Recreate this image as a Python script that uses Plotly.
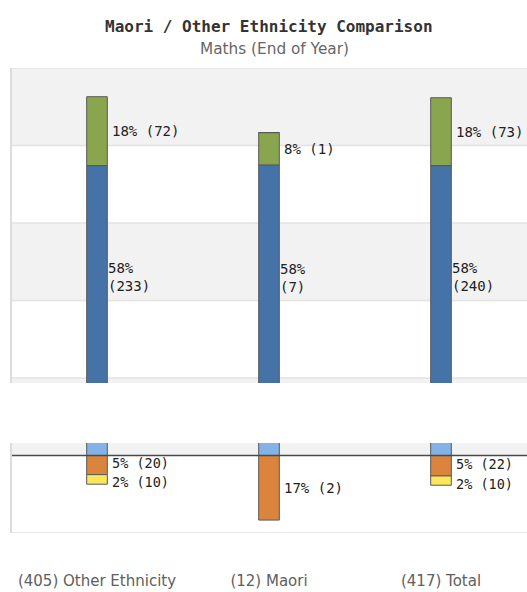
import plotly.graph_objects as go

categories = ["Other Ethnicity", "Maori", "Total"]
group_sizes = [405, 12, 417]
# counts per achievement level
light_blue_counts = [70, 2, 72]
blue_counts = [233, 7, 240]
green_counts = [72, 1, 73]
orange_counts = [20, 2, 22]
yellow_counts = [10, 0, 10]

band_edges = [100, 80, 60, 40, 20, 0, -20]
gap_range = [3.2, 18.7]

COL = dict(lb="#82b2e6", bl="#4572a7", gr="#89a54e", ora="#db843d", yel="#fbe65c")

def pct(counts):
    return [c / n * 100 for c, n in zip(counts, group_sizes)]

lb, bl, gr = pct(light_blue_counts), pct(blue_counts), pct(green_counts)
ora, yel = pct(orange_counts), pct(yellow_counts)

fig = go.Figure()
line = dict(color="#5a5a5a", width=1)
for vals, col, sign in [(lb, COL["lb"], 1), (bl, COL["bl"], 1), (gr, COL["gr"], 1),
                        (ora, COL["ora"], -1), (yel, COL["yel"], -1)]:
    fig.add_trace(go.Bar(x=categories, y=[sign * v for v in vals], width=0.12,
                         marker=dict(color=col, line=line), hoverinfo="skip",
                         showlegend=False))

fig.update_layout(barmode="relative")

lab_font = dict(family="DejaVu Sans Mono", size=14, color="#222")
small_font = dict(family="DejaVu Sans Mono", size=13.5, color="#222")

def lab(p, c):
    return f"{round(p)}% ({c})"

for i, cat in enumerate(categories):
    y_mid = lb[i] + bl[i] / 2
    fig.add_annotation(x=cat, y=y_mid, text=f"{round(bl[i])}%<br>({blue_counts[i]})",
                       showarrow=False, xanchor="left", align="left", xshift=9,
                       font=lab_font)
    y_mid = lb[i] + bl[i] + gr[i] / 2
    fig.add_annotation(x=cat, y=y_mid, text=lab(gr[i], green_counts[i]),
                       showarrow=False, xanchor="left", xshift=13, font=lab_font)
    both = orange_counts[i] > 0 and yellow_counts[i] > 0
    if orange_counts[i] > 0:
        fig.add_annotation(x=cat, y=-ora[i] / 2, text=lab(ora[i], orange_counts[i]),
                           showarrow=False, xanchor="left", xshift=14,
                           yshift=2 if both else 0, borderpad=0,
                           font=small_font if both else lab_font)
    if yellow_counts[i] > 0:
        fig.add_annotation(x=cat, y=-ora[i] - yel[i] / 2, text=lab(yel[i], yellow_counts[i]),
                           showarrow=False, xanchor="left", xshift=14,
                           yshift=-3 if both else 0, borderpad=0, font=small_font)

# title and subtitle
fig.add_annotation(xref="paper", yref="paper", x=0.5, y=1, yshift=42, yanchor="middle",
                   text="<b>Maori / Other Ethnicity Comparison</b>", showarrow=False,
                   font=dict(family="DejaVu Sans Mono", size=16, color="#333"))
fig.add_annotation(xref="paper", yref="paper", x=0.51, y=1, yshift=19, yanchor="middle",
                   text="Maths (End of Year)", showarrow=False,
                   font=dict(family="DejaVu Sans", size=15.3, color="#666"))

shapes = []
for k in range(len(band_edges) - 1):
    if k % 2 == 0 and band_edges[k + 1] >= 0:
        shapes.append(dict(type="rect", xref="paper", yref="y", x0=0, x1=1,
                           y0=band_edges[k + 1], y1=band_edges[k],
                           fillcolor="#f2f2f2", line_width=0, layer="below"))
for e in band_edges:
    if e != 0:
        shapes.append(dict(type="line", xref="paper", yref="y", x0=0, x1=1, y0=e, y1=e,
                           line=dict(color="#e3e3e3", width=1.5), layer="below"))
shapes.append(dict(type="line", xref="paper", yref="y", x0=0, x1=1, y0=0, y1=0,
                   line=dict(color="#4a4a4a", width=1.5), layer="above"))
shapes.append(dict(type="line", xref="paper", yref="y", x0=0, x1=0, y0=-20, y1=100,
                   line=dict(color="#dcdcdc", width=2), layer="above"))
shapes.append(dict(type="rect", xref="paper", yref="y", x0=-0.05, x1=1.05,
                   y0=gap_range[0], y1=gap_range[1], fillcolor="white",
                   line_width=0, layer="above"))
fig.update_layout(shapes=shapes)

fig.update_layout(
    width=527, height=592,
    margin=dict(l=11, r=0, t=68, b=59),
    paper_bgcolor="white", plot_bgcolor="white",
    yaxis=dict(range=[-20, 100], showgrid=False, zeroline=False, showticklabels=False,
               fixedrange=True),
    xaxis=dict(tickvals=categories,
               ticktext=[f"({n}) {c}" for n, c in zip(group_sizes, categories)],
               showgrid=False, zeroline=False, showline=False, ticks="",
               ticklabelstandoff=37,
               tickfont=dict(family="DejaVu Sans", size=15, color="#606060")),
)

fig.write_html("out.html")
